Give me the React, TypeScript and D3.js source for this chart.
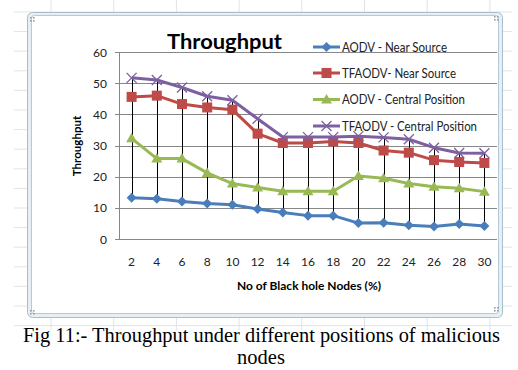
import * as d3 from "d3";

const nodes = ["2", "4", "6", "8", "10", "12", "14", "16", "18", "20", "22", "24", "26", "28", "30"];
const aodvNear = [13.2, 12.9, 12, 11.4, 11, 9.6, 8.5, 7.5, 7.5, 5.1, 5.2, 4.4, 4, 4.8, 4.2];
const tfaodvNear = [45.6, 46, 43.3, 42.2, 41.5, 33.8, 30.8, 30.8, 31.3, 30.8, 28.4, 27.7, 25.3, 24.7, 24.4];
const aodvCentral = [32.3, 25.8, 25.8, 21.2, 17.8, 16.5, 15.3, 15.3, 15.3, 20.2, 19.5, 17.8, 16.8, 16.3, 15.2];
const tfaodvCentral = [51.7, 51, 48.6, 45.8, 44.5, 38.6, 32.7, 32.7, 32.7, 33, 32.6, 32, 29.3, 27.6, 27.5];
const yTicks = [0, 10, 20, 30, 40, 50, 60];

const series = [
  { name: "AODV - Near Source", values: aodvNear, color: "#4A7EBB", marker: "diamond" },
  { name: "TFAODV- Near Source", values: tfaodvNear, color: "#BE4B48", marker: "square" },
  { name: "AODV - Central Position", values: aodvCentral, color: "#98B954", marker: "triangle" },
  { name: "TFAODV - Central Position", values: tfaodvCentral, color: "#7D60A0", marker: "x" },
];

const W = 518, H = 370;
const plot = { left: 119, right: 497, top: 52, bottom: 239 };
const font = "Lato, 'Open Sans', sans-serif";

const Marker = ({ kind, x, y, color }: { kind: string; x: number; y: number; color: string }) => {
  if (kind === "diamond")
    return <path d={`M${x},${y - 5}L${x + 5},${y}L${x},${y + 5}L${x - 5},${y}Z`} fill={color} />;
  if (kind === "square")
    return <rect x={x - 5} y={y - 5} width={10} height={10} fill={color} />;
  if (kind === "triangle")
    return <path d={`M${x},${y - 5.5}L${x + 5.5},${y + 4}L${x - 5.5},${y + 4}Z`} fill={color} />;
  return (
    <path d={`M${x - 5},${y - 5}L${x + 5},${y + 5}M${x + 5},${y - 5}L${x - 5},${y + 5}`} stroke={color} strokeWidth={1.3} />
  );
};

export default function App() {
  const x = d3.scaleBand().domain(nodes).range([plot.left, plot.right]);
  const y = d3.scaleLinear().domain([0, 60]).range([plot.bottom, plot.top]);
  const cx = (n: string) => (x(n) || 0) + x.bandwidth() / 2;
  const line = d3.line<number>().x((_, i) => cx(nodes[i])).y((v) => y(v));

  // worksheet grid behind the chart frame
  const sheetCols = d3.range(51, 515, 62.7);
  const sheetRows = d3.range(12, 330, 19.6);

  return (
    <svg width={W} height={H} style={{ position: "absolute", left: 0, top: 0, background: "#fff" }}>
      <g stroke="#dfe3e8" strokeWidth={1}>
        {sheetCols.map((c) => <line key={`c${c}`} x1={c} x2={c} y1={0} y2={330} />)}
        {sheetRows.map((r) => <line key={`r${r}`} x1={14} x2={512} y1={r} y2={r} />)}
      </g>
      {/* chart frame */}
      <rect x={27.5} y={12.5} width={475} height={305} rx={5} fill="#e6eff4" stroke="#a9bfcc" />
      <rect x={31.5} y={15.5} width={467} height={298} rx={3} fill="#fff" stroke="#b7c9d4" />
      <g fill="#8aa0ad">
        {[[31, 18], [34, 18], [31, 21], [34, 21], [495, 17], [498, 17], [495, 20], [498, 20], [495, 308], [498, 308], [495, 311], [498, 311], [31, 311], [34, 311], [31, 314], [34, 314]].map(([a, b], i) => (
          <rect key={i} x={a - 1} y={b - 1} width={1.6} height={1.6} />
        ))}
      </g>

      {/* gridlines */}
      <g stroke="#878787" strokeWidth={1}>
        {yTicks.map((t) => (
          <line key={t} x1={plot.left - 4} x2={plot.right} y1={Math.round(y(t)) + 0.5} y2={Math.round(y(t)) + 0.5} />
        ))}
        <line x1={plot.left + 0.5} x2={plot.left + 0.5} y1={plot.top} y2={plot.bottom} />
      </g>
      <g fontFamily={font} fontSize={12} fill="#222" textAnchor="end">
        {yTicks.map((t) => (
          <text key={t} x={107} y={y(t) + 4.5}>{t}</text>
        ))}
      </g>
      <g fontFamily={font} fontSize={12} fill="#222" textAnchor="middle">
        {nodes.map((n) => (
          <text key={n} x={cx(n)} y={266}>{n}</text>
        ))}
      </g>

      {/* high-low lines */}
      <g stroke="#000" strokeWidth={1}>
        {nodes.map((n, i) => {
          const vals = series.map((s) => s.values[i]);
          return <line key={n} x1={Math.round(cx(n)) + 0.5} x2={Math.round(cx(n)) + 0.5} y1={y(d3.max(vals)!)} y2={y(d3.min(vals)!)} />;
        })}
      </g>

      {series.map((s) => (
        <g key={s.name}>
          <path d={line(s.values) || ""} fill="none" stroke={s.color} strokeWidth={3} strokeLinejoin="round" />
          {s.values.map((v, i) => (
            <Marker key={i} kind={s.marker} x={cx(nodes[i])} y={y(v)} color={s.color} />
          ))}
        </g>
      ))}

      {/* legend */}
      {series.map((s, i) => {
        const ly = [47, 73, 99.5, 126][i];
        return (
          <g key={s.name}>
            <line x1={313} x2={340} y1={ly} y2={ly} stroke={s.color} strokeWidth={3} />
            <Marker kind={s.marker} x={326.5} y={ly} color={s.color} />
            <text x={342} y={ly + 4.5} fontFamily={font} fontSize={12.5} fill="#222"
              textLength={[105, 114, 123, 135][i]} lengthAdjust="spacingAndGlyphs">{s.name}</text>
          </g>
        );
      })}

      <text x={167} y={49} fontFamily={font} fontWeight="bold" fontSize={21} fill="#000"
        textLength={115} lengthAdjust="spacingAndGlyphs">Throughput</text>
      <text transform="translate(81,146) rotate(-90)" textAnchor="middle" fontFamily={font}
        fontWeight="bold" fontSize={11.5} fill="#000">Throughput</text>
      <text x={309} y={290} textAnchor="middle" fontFamily={font} fontWeight="bold" fontSize={11.5}
        fill="#000" textLength={144} lengthAdjust="spacingAndGlyphs">No of Black  hole Nodes (%)</text>

      <g fontFamily="'Liberation Serif', 'Times New Roman', serif" fontSize={20.5} fill="#000" textAnchor="middle">
        <text x={261.5} y={342} textLength={477} lengthAdjust="spacingAndGlyphs">Fig 11:- Throughput under different positions of malicious</text>
        <text x={261} y={364}>nodes</text>
      </g>
    </svg>
  );
}
